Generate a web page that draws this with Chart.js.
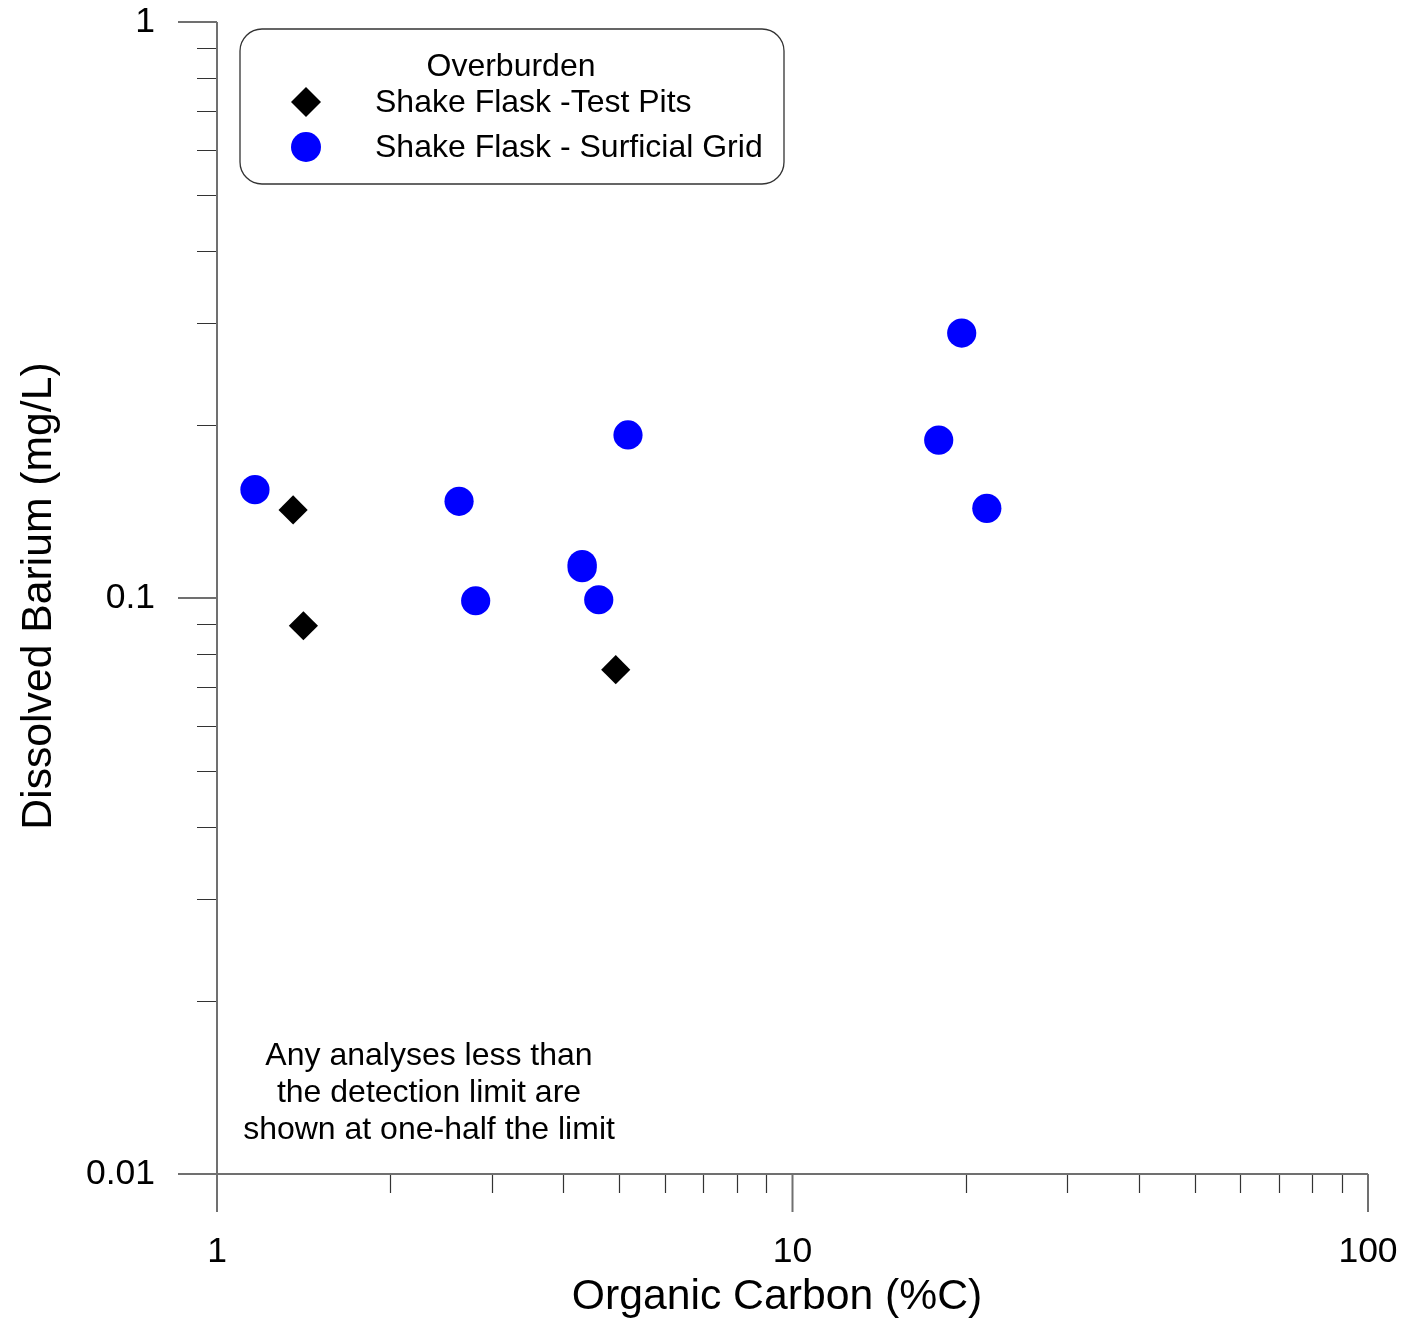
<!DOCTYPE html>
<html>
<head>
<meta charset="utf-8">
<script src="https://cdn.jsdelivr.net/npm/chart.js@4.4.1/dist/chart.umd.min.js"></script>
<style>
    html, body { margin: 0; padding: 0; background: #fff; }
    #chartWrap { width: 1408px; height: 1324px; }
</style>
</head>
<body>
<div id="chartWrap"><canvas id="bariumChart" width="1408" height="1324"></canvas></div>
<script>
//-----------------------------------------------------------------------------
// data: organic carbon (%C) vs dissolved barium (mg/L)
//-----------------------------------------------------------------------------
const testPitsCarbon    = [1.356, 1.413, 4.93];
const testPitsBarium    = [0.1422, 0.0895, 0.0751];
const surficialCarbon   = [1.164, 2.634, 2.815, 4.31, 4.31, 4.606, 5.178, 17.95, 19.68, 21.76];
const surficialBarium   = [0.1542, 0.1472, 0.0989, 0.1143, 0.1129, 0.0993, 0.1919, 0.188, 0.2884, 0.1431];

const xDecadeLabels = [1, 10, 100];
const yDecadeLabels = [0.01, 0.1, 1];

const legendTitle   = "Overburden";
const seriesNames   = ["Shake Flask -Test Pits", "Shake Flask - Surficial Grid"];
const noteLines     = ["Any analyses less than", "the detection limit are", "shown at one-half the limit"];
const xTitle        = "Organic Carbon (%C)";
const yTitle        = "Dissolved Barium (mg/L)";

const FONT = "'Liberation Sans', Arial, sans-serif";

// zip x/y arrays into point objects for chart.js
function toPoints(xs, ys){
    return xs.map((x, i) => ({ x: x, y: ys[i] }));
}

// only label the powers of ten
function decadeLabel(list){
    return value => list.some(v => Math.abs(v - value) < v * 1e-6) ? `${value}` : "";
}

// chart.js adds the tick padding to the scale edges too, drop that
// so the plot area lands where the layout padding says
function fixScale(size, prop){
    return scale => {
        scale[prop] = size;
        scale.paddingTop = 0;
        scale.paddingBottom = 0;
        scale.paddingLeft = 0;
        scale.paddingRight = 0;
    };
}

//-----------------------------------------------------------------------------
// axis lines + tick marks (major ticks longer than minor ones)
//-----------------------------------------------------------------------------
const axisFrame = {
    id: "axisFrame",
    afterDraw(chart){
        const ctx = chart.ctx;
        const xs = chart.scales.x;
        const ys = chart.scales.y;
        const {left, right, top, bottom} = chart.chartArea;
        ctx.save();

        // minor ticks
        ctx.strokeStyle = "#333";
        ctx.lineWidth = 1.2;
        ctx.beginPath();
        for (const dec of [1, 10]){
            for (let m = 2; m <= 9; m++){
                const px = Math.round(xs.getPixelForValue(m * dec)) + 0.5;
                ctx.moveTo(px, bottom);
                ctx.lineTo(px, bottom + 19);
            }
        }
        for (const dec of [0.01, 0.1]){
            for (let m = 2; m <= 9; m++){
                const py = Math.round(ys.getPixelForValue(m * dec)) + 0.5;
                ctx.moveTo(left, py);
                ctx.lineTo(left - 20, py);
            }
        }
        ctx.stroke();

        // axis lines and major ticks
        ctx.strokeStyle = "#707070";
        ctx.lineWidth = 2;
        ctx.beginPath();
        ctx.moveTo(left, top);
        ctx.lineTo(left, bottom);
        ctx.moveTo(left, bottom);
        ctx.lineTo(right, bottom);
        for (const v of xDecadeLabels){
            const px = xs.getPixelForValue(v);
            ctx.moveTo(px, bottom);
            ctx.lineTo(px, bottom + 38);
        }
        for (const v of yDecadeLabels){
            const py = ys.getPixelForValue(v);
            ctx.moveTo(left, py);
            ctx.lineTo(left - 39, py);
        }
        ctx.stroke();
        ctx.restore();
    }
};

//-----------------------------------------------------------------------------
// axis titles, legend box and the detection limit note
//-----------------------------------------------------------------------------
const annotations = {
    id: "annotations",
    afterDraw(chart){
        const ctx = chart.ctx;
        ctx.save();
        ctx.fillStyle = "#000";
        ctx.textBaseline = "middle";

        // axis titles
        ctx.font = `42.7px ${FONT}`;
        ctx.textAlign = "center";
        ctx.fillText(xTitle, 777, 1297);
        ctx.save();
        ctx.translate(39, 596);
        ctx.rotate(-Math.PI / 2);
        ctx.fillText(yTitle, 0, 0);
        ctx.restore();

        // note in the lower left
        ctx.font = `32px ${FONT}`;
        const noteY = [1056, 1093, 1130];
        noteLines.forEach((line, i) => ctx.fillText(line, 429, noteY[i]));

        // legend box
        ctx.strokeStyle = "#333";
        ctx.lineWidth = 1.3;
        ctx.beginPath();
        ctx.roundRect(240, 29, 544, 155, 22);
        ctx.fillStyle = "#fff";
        ctx.fill();
        ctx.stroke();

        ctx.fillStyle = "#000";
        ctx.font = `32px ${FONT}`;
        ctx.textAlign = "center";
        ctx.fillText(legendTitle, 511, 67);

        ctx.textAlign = "left";
        ctx.fillText(seriesNames[0], 375, 103);
        ctx.fillText(seriesNames[1], 375, 148);

        // legend markers
        ctx.beginPath();
        ctx.moveTo(306, 102 - 15);
        ctx.lineTo(306 + 15, 102);
        ctx.lineTo(306, 102 + 15);
        ctx.lineTo(306 - 15, 102);
        ctx.closePath();
        ctx.fillStyle = "#000";
        ctx.fill();

        ctx.beginPath();
        ctx.arc(306, 147, 15, 0, Math.PI * 2);
        ctx.fillStyle = "#0000ff";
        ctx.fill();

        ctx.restore();
    }
};

//-----------------------------------------------------------------------------
// build the chart
//-----------------------------------------------------------------------------
function drawChart(){
    const ctx = document.getElementById("bariumChart").getContext("2d");

    new Chart(ctx, {
        type: "scatter",
        data: {
            datasets: [
                {
                    label: seriesNames[1],
                    data: toPoints(surficialCarbon, surficialBarium),
                    pointStyle: "circle",
                    pointRadius: 14.6,
                    pointBackgroundColor: "#0000ff",
                    pointBorderWidth: 0,
                    pointHoverRadius: 14.6
                },
                {
                    label: seriesNames[0],
                    data: toPoints(testPitsCarbon, testPitsBarium),
                    pointStyle: "rectRot",
                    pointRadius: 14.6,
                    pointBackgroundColor: "#000",
                    pointBorderWidth: 0,
                    pointHoverRadius: 14.6
                }
            ]
        },
        options: {
            responsive: false,
            animation: false,
            devicePixelRatio: 1,
            layout: {
                padding: { top: 22, right: 40, left: 0, bottom: 0 }
            },
            plugins: {
                legend: { display: false },
                tooltip: { enabled: false }
            },
            scales: {
                x: {
                    type: "logarithmic",
                    min: 1,
                    max: 100,
                    grid: { display: false, drawTicks: false },
                    border: { display: false },
                    ticks: {
                        autoSkip: false,
                        maxRotation: 0,
                        padding: 57,
                        color: "#000",
                        font: { family: FONT, size: 35.5 },
                        callback: decadeLabel(xDecadeLabels)
                    },
                    afterFit: fixScale(150, "height")
                },
                y: {
                    type: "logarithmic",
                    min: 0.01,
                    max: 1,
                    grid: { display: false, drawTicks: false },
                    border: { display: false },
                    ticks: {
                        autoSkip: false,
                        padding: 62,
                        color: "#000",
                        font: { family: FONT, size: 35.5 },
                        callback: decadeLabel(yDecadeLabels)
                    },
                    afterFit: fixScale(217, "width")
                }
            }
        },
        plugins: [axisFrame, annotations]
    });
}

drawChart();
</script>
</body>
</html>
